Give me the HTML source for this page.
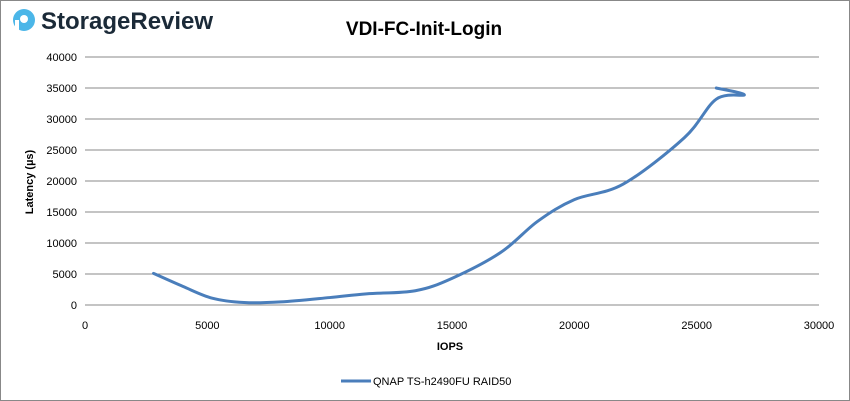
<!DOCTYPE html>
<html><head><meta charset="utf-8"><style>
body{margin:0;background:#fff;font-family:"Liberation Sans",sans-serif}
#wrap{position:relative;width:848px;height:399px;border:1px solid #888;overflow:hidden}
</style></head><body>
<div id="wrap">
<svg width="848" height="399" id="svg">
<g>
<circle cx="23" cy="19" r="11" fill="#4bb6e8"/><circle cx="23" cy="18" r="4" fill="#fff"/><rect x="14" y="19" width="4" height="11" fill="#fff"/>
<text x="40" y="28" font-size="24" fill="#1b2a38" font-weight="bold">StorageReview</text>
</g>
<text x="423" y="34" font-size="19" font-weight="bold" text-anchor="middle" fill="#000">VDI-FC-Init-Login</text>
<g id="grid"></g><g id="ticks"></g>
<text x="449" y="349" font-size="11" font-weight="bold" text-anchor="middle">IOPS</text>
<text transform="translate(32,181) rotate(-90)" font-size="11" font-weight="bold" text-anchor="middle">Latency (µs)</text>
<path id="series" fill="none" stroke="#4a7ebb" stroke-width="3" stroke-linejoin="round" stroke-linecap="round"/>
<line x1="340" y1="380" x2="370" y2="380" stroke="#4a7ebb" stroke-width="3"/>
<text x="372" y="384" font-size="11">QNAP TS-h2490FU RAID50</text>
</svg></div>
<script>
const xTicks=[0,5000,10000,15000,20000,25000,30000];
const yTicks=[0,5000,10000,15000,20000,25000,30000,35000,40000];
const iops=[2800,4000,5200,6500,8000,10000,11500,13500,15000,17000,18500,20000,22000,24500,25800,26950,25800];
const latency=[5100,3000,1100,400,500,1200,1800,2300,4300,8500,13500,17000,19500,27000,33200,33900,35000];
const X=v=>84+v*(818-84)/30000, Y=v=>304-v*(304-56)/40000;
const ns="http://www.w3.org/2000/svg",g=document.getElementById('grid'),t=document.getElementById('ticks');
yTicks.forEach(v=>{const l=document.createElementNS(ns,'line');l.setAttribute('x1',84);l.setAttribute('x2',818);l.setAttribute('y1',Y(v));l.setAttribute('y2',Y(v));l.setAttribute('stroke','#888');

g.appendChild(l);
const s=document.createElementNS(ns,'text');s.setAttribute('x',76);s.setAttribute('y',Y(v)+4);s.setAttribute('font-size','11');s.setAttribute('text-anchor','end');s.textContent=v;

t.appendChild(s);});
xTicks.forEach(v=>{const s=document.createElementNS(ns,'text');s.setAttribute('x',X(v));s.setAttribute('y',328);s.setAttribute('font-size','11');s.setAttribute('text-anchor','middle');s.textContent=v;

t.appendChild(s);});
const p=iops.map((x,i)=>[X(x),Y(latency[i])]);
let d='M'+p[0];
for(let i=0;i<p.length-1;i++){const p0=p[i-1]||p[i],p1=p[i],p2=p[i+1],p3=p[i+2]||p2,k=6;
d+=' C'+(p1[0]+(p2[0]-p0[0])/k)+','+(p1[1]+(p2[1]-p0[1])/k)+' '+(p2[0]-(p3[0]-p1[0])/k)+','+(p2[1]-(p3[1]-p1[1])/k)+' '+p2;}
document.getElementById('series').setAttribute('d',d);
</script></body></html>
